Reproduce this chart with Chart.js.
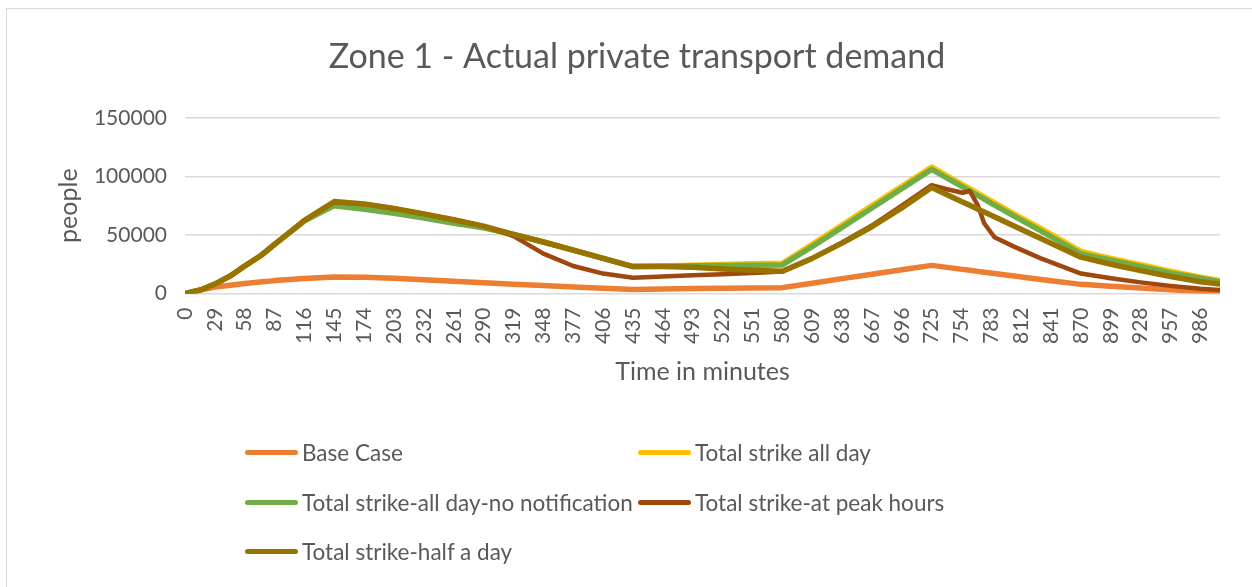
<!DOCTYPE html>
<html>
<head>
<meta charset="utf-8">
<script src="https://cdn.jsdelivr.net/npm/chart.js@4/dist/chart.umd.min.js"></script>
<style>
  html, body { margin: 0; padding: 0; background: #fff; overflow: hidden; }
  body { width: 1252px; height: 587px; position: relative; font-family: Lato, "Open Sans", sans-serif; }
  #frame { position: absolute; left: 6px; top: 8px; width: 1280px; height: 620px; border: 1.5px solid #D9D9D9; box-sizing: border-box; }
  #wrap { position: absolute; left: 0; top: 0; width: 1252px; height: 400px; }
  #legend { position: absolute; left: 0; top: 0; width: 1252px; height: 587px; pointer-events: none; }
  .item { position: absolute; display: flex; align-items: center; color: #595959; font-size: 22.5px; white-space: nowrap; }
  .item .swatch { width: 53px; height: 5px; border-radius: 3px; margin-right: 4px; }
</style>
</head>
<body>
<div id="frame"></div>
<div id="wrap"><canvas id="chart"></canvas></div>
<div id="legend"></div>
<script>
// time axis (minutes) and series values
const minutes = [0, 15, 29, 44, 58, 73, 87, 116, 145, 174, 203, 232, 261, 290, 319, 348, 377, 406, 435,
  464, 493, 522, 551, 580, 609, 638, 667, 696, 725, 740, 755, 762, 770, 776, 786, 805, 831, 870,
  899, 928, 957, 986, 1005];

const baseCase = [0, 3000, 5500, 7000, 8500, 9800, 11000, 12800, 14000, 13800, 13000, 11800, 10500, 9200, 8000, 6800, 5600, 4500, 3500,
  3800, 4200, 4500, 4800, 5000, 8800, 12700, 16500, 20300, 24000, 22300, 20600, 19800, 18900, 18200, 17000, 14900, 11900, 7800,
  6200, 4600, 3100, 1900, 1200];

const strikeAllDay = [0, 3000, 8000, 15000, 23500, 32000, 42000, 62000, 76000, 73000, 69000, 65000, 60500, 56000, 50500, 44000, 37000, 30000, 23000,
  23500, 24200, 24800, 25300, 25800, 42000, 58500, 75000, 91500, 108000, 100500, 93000, 89500, 85500, 82500, 77500, 68000, 55500, 36000,
  30000, 24500, 19000, 14000, 11000];

const strikeNoNotice = [0, 3000, 8000, 15000, 23500, 32000, 42000, 62000, 75000, 72000, 68500, 64500, 60000, 56000, 50500, 44000, 37000, 30000, 23000,
  23300, 23600, 24000, 24200, 24400, 40000, 56500, 73000, 89500, 106000, 98500, 91000, 87500, 83500, 80500, 75500, 66000, 53500, 34000,
  28500, 23000, 17500, 13000, 10000];

const strikePeak = [0, 3000, 8000, 15000, 23500, 32000, 42000, 62500, 78000, 76500, 72500, 68000, 63000, 57500, 49000, 34000, 23500, 17000, 13500,
  14500, 15500, 16500, 17500, 18700, 30000, 43500, 58000, 75000, 92500, 89000, 86000, 87500, 75000, 60000, 48000, 40000, 30000, 17000,
  13000, 9500, 6500, 4000, 3000];

const strikeHalfDay = [0, 3000, 8000, 15000, 23500, 32000, 42000, 62500, 78500, 76500, 72500, 68000, 63000, 57500, 50500, 44000, 37000, 30000, 23000,
  23000, 22500, 21000, 19800, 19000, 30000, 43000, 57000, 73000, 90500, 84300, 78200, 75300, 72000, 69600, 65500, 57700, 47000, 31000,
  25000, 19500, 14500, 10000, 8000];

const seriesNames = ['Base Case', 'Total strike all day', 'Total strike-all day-no notification',
  'Total strike-at peak hours', 'Total strike-half a day'];
const seriesColors = ['#ED7D31', '#FFC000', '#70AD47', '#9E480E', '#997300'];
const seriesValues = [baseCase, strikeAllDay, strikeNoNotice, strikePeak, strikeHalfDay];

const yTicks = [0, 50000, 100000, 150000];

const TEXT = '#595959';
const FONT = 'Lato, "Open Sans", sans-serif';

const datasets = seriesValues.map((vals, i) => ({
  label: seriesNames[i],
  data: minutes.map((m, j) => ({ x: m, y: vals[j] })),
  borderColor: seriesColors[i],
  backgroundColor: seriesColors[i],
  borderWidth: i === 3 ? 4.5 : 5.5,
  pointRadius: 0,
  tension: 0,
  borderJoinStyle: 'round',
  borderCapStyle: 'round',
  order: seriesValues.length - 1 - i, // last series on top, like Excel
}));

const chart = new Chart(document.getElementById('chart'), {
  type: 'line',
  data: { datasets },
  options: {
    responsive: true,
    maintainAspectRatio: false,
    animation: false,
    layout: { padding: { left: 54, right: 32, top: 0, bottom: 0 } },
    plugins: {
      legend: { display: false },
      tooltip: { enabled: false },
      title: {
        display: true,
        text: 'Zone 1 - Actual private transport demand',
        color: TEXT,
        font: { family: FONT, size: 34, weight: 'normal' },
        padding: { top: 37, bottom: 40 },
      },
    },
    scales: {
      x: {
        type: 'linear',
        min: 0,
        max: 1005,
        grid: { display: false },
        border: { display: false },
        ticks: {
          stepSize: 29,
          includeBounds: false,
          autoSkip: false,
          minRotation: 90,
          maxRotation: 90,
          padding: 6,
          color: TEXT,
          font: { family: FONT, size: 21 },
        },
        title: {
          display: true,
          text: 'Time in minutes',
          color: TEXT,
          font: { family: FONT, size: 25 },
          padding: { top: 4, bottom: 13 },
        },
        afterFit: s => { s.height = 106.5; },
      },
      y: {
        min: 0,
        max: 150000,
        afterBuildTicks: s => { s.ticks = yTicks.map(v => ({ value: v })); },
        grid: { color: '#D9D9D9', lineWidth: 1.5, drawTicks: false },
        border: { display: false },
        ticks: {
          padding: 18,
          color: TEXT,
          font: { family: FONT, size: 21 },
          callback: v => String(v),
        },
        title: {
          display: true,
          text: 'people',
          color: TEXT,
          font: { family: FONT, size: 25 },
          padding: 0,
        },
        afterFit: s => { s.width = 131; },
      },
    },
  },
});

// legend in two columns, built from the chart's own datasets
const legendPos = [[245, 452], [638, 452], [245, 502], [638, 502], [245, 551]];
const legendEl = document.getElementById('legend');
chart.data.datasets.forEach((ds, i) => {
  const item = document.createElement('div');
  item.className = 'item';
  item.style.left = legendPos[i][0] + 'px';
  item.style.top = (legendPos[i][1] - 15) + 'px';
  item.style.height = '30px';
  const sw = document.createElement('span');
  sw.className = 'swatch';
  sw.style.background = ds.borderColor;
  const txt = document.createElement('span');
  txt.textContent = ds.label;
  item.appendChild(sw);
  item.appendChild(txt);
  legendEl.appendChild(item);
});
</script>
</body>
</html>
